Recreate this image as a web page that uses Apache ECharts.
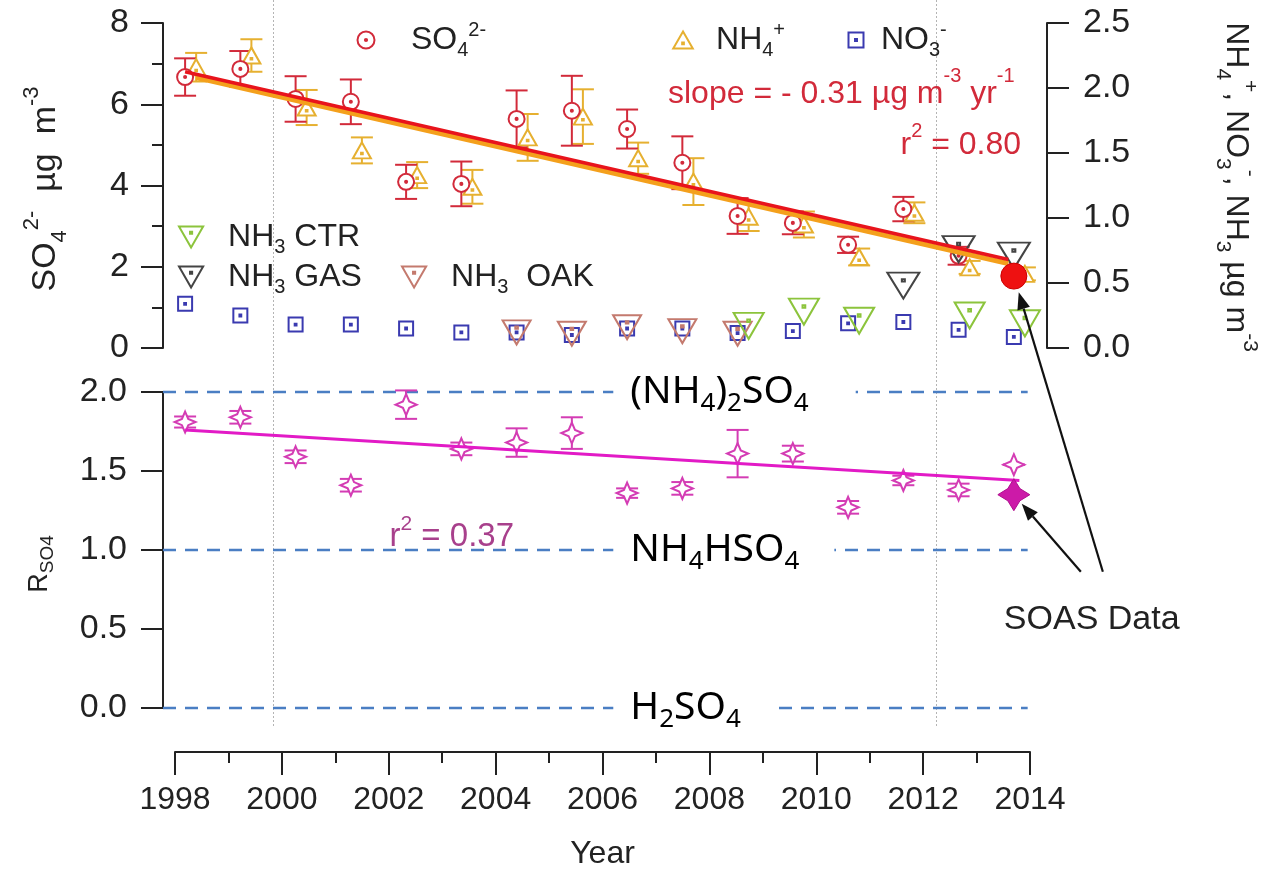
<!DOCTYPE html>
<html><head><meta charset="utf-8">
<script src="https://cdn.jsdelivr.net/npm/echarts@6.0.0/dist/echarts.min.js"></script>
<style>html,body{margin:0;padding:0;background:#fff;}#chart{width:1263px;height:869px;}</style>
</head><body><div id="chart"></div>
<script>
// ---------------- data ----------------
const so4Years = [1998,1999,2000,2001,2002,2003,2004,2005,2006,2007,2008,2009,2010,2011,2012];
const so4      = [6.67,6.87,6.13,6.06,4.09,4.04,5.64,5.84,5.39,4.56,3.25,3.08,2.54,3.42,2.27];
const so4Err   = [0.46,0.44,0.56,0.55,0.42,0.55,0.70,0.86,0.48,0.65,0.44,0.28,0.20,0.30,0.22];

const nh4Years = [1998,1999,2000,2001,2002,2003,2004,2005,2006,2007,2008,2009,2010,2011,2012,2013];
const nh4      = [2.16,2.25,1.85,1.52,1.33,1.24,1.62,1.78,1.46,1.28,1.01,0.95,0.70,1.04,0.62,0.57];
const nh4Err   = [0.11,0.125,0.135,0.10,0.10,0.13,0.18,0.21,0.12,0.18,0.11,0.10,0.065,0.08,0.05,0.05];

const no3Years = [1998,1999,2000,2001,2002,2003,2004,2005,2006,2007,2008,2009,2010,2011,2012,2013];
const no3      = [0.34,0.25,0.18,0.18,0.15,0.12,0.12,0.10,0.15,0.15,0.115,0.13,0.19,0.20,0.14,0.085];
const no3Err   = [0.03,0.03,0.03,0.03,0.03,0.03,0.03,0.03,0.03,0.03,0.03,0.03,0.03,0.03,0.03,0.03];

const nh3OakYears = [2004,2005,2006,2007,2008];
const nh3Oak      = [0.12,0.11,0.16,0.13,0.11];
const nh3CtrYears = [2008,2009,2010,2012,2013];
const nh3Ctr      = [0.17,0.28,0.21,0.25,0.19];
const nh3GasYears = [2011,2012,2013];
const nh3Gas      = [0.48,0.76,0.71];

const rYears = [1998,1999,2000,2001,2002,2003,2004,2005,2006,2007,2008,2009,2010,2011,2012,2013];
const rso4   = [1.81,1.84,1.59,1.41,1.92,1.64,1.68,1.74,1.36,1.39,1.61,1.61,1.27,1.44,1.38,1.54];
const rso4Err= [0.035,0.04,0.04,0.04,0.09,0.04,0.09,0.10,0.03,0.04,0.15,0.05,0.04,0.03,0.04,0.0];

const soasYear = 2013;
const soasSO4 = 1.77;
const soasR = 1.35;

const so4FitX = [1998.4, 2013.3]; const so4Fit = [6.80, 2.18];
const nh4FitX = [1998.6, 2013.3]; const nh4Fit = [2.08, 0.65];
const rFitX   = [1998.4, 2013.5]; const rFit   = [1.76, 1.44];

const refLevels = [0, 1, 2];
const refLabels = ['H{s|2}SO{s|4}', 'NH{s|4}HSO{s|4}', '(NH{s|4}){s|2}SO{s|4}'];
const gridYears = [2000, 2012];

// ---------------- style ----------------
const FF = '"Liberation Sans", Arial, Helvetica, sans-serif';
const FF2 = '"Noto Sans", "DejaVu Sans", sans-serif';
const C = {so4:'#d22a3a', so4Fit:'#e8141c', nh4:'#e6b030', nh4Fit:'#f4a01c', no3:'#3a3ab0',
  ctr:'#8cc43c', gas:'#444444', oak:'#c47a6e', r:'#d43cb4', rFit:'#e21ac6', rText:'#a8408c',
  ref:'#4a7ec3', axis:'#222222', grid:'#b4b4b4'};
const OFF_A = 0.4, OFF_B = 0.6;
const SYM = {
  circleDot:'path://M0,-10A10,10,0,1,1,0,10A10,10,0,1,1,0,-10Z M0,-1.3A1.3,1.3,0,1,1,0,1.3A1.3,1.3,0,1,1,0,-1.3Z',
  triUpDot:'path://M0,-10L11.5,10L-11.5,10Z M-1,3L1,3L1,5L-1,5Z',
  triDownDot:'path://M-11.5,-10L11.5,-10L0,10Z M-1,-5L1,-5L1,-3L-1,-3Z',
  squareDot:'path://M-10,-10L10,-10L10,10L-10,10Z M-1.3,-1.3L1.3,-1.3L1.3,1.3L-1.3,1.3Z',
  star4:'path://M0,-10L3,-3L10,0L3,3L0,10L-3,3L-10,0L-3,-3Z',
  star4f:'path://M0,-10L3.8,-3.8L10,0L3.8,3.8L0,10L-3.8,3.8L-10,0L-3.8,-3.8Z'
};

function errSeries(xs, ys, es, off, color, capW, xi, yi, lw, z){
  return {type:'custom', xAxisIndex:xi, yAxisIndex:yi, z:z, silent:true, clip:false,
    data: xs.map((x,i)=>[x+off, ys[i], es[i]]), encode:{x:0, y:1},
    renderItem:(p, api)=>{
      const x=api.value(0), y=api.value(1), e=api.value(2);
      const t=api.coord([x, y+e]), b=api.coord([x, y-e]); const h=capW/2;
      const st={stroke:color, lineWidth:lw};
      return {type:'group', children:[
        {type:'line', shape:{x1:t[0],y1:t[1],x2:b[0],y2:b[1]}, style:st},
        {type:'line', shape:{x1:t[0]-h,y1:t[1],x2:t[0]+h,y2:t[1]}, style:st},
        {type:'line', shape:{x1:b[0]-h,y1:b[1],x2:b[0]+h,y2:b[1]}, style:st}]};
    }};
}
function markSeries(name, xs, ys, off, symbol, size, fill, stroke, xi, yi, z, bw){
  return {name:name, type:'scatter', xAxisIndex:xi, yAxisIndex:yi, z:z, silent:true, clip:false,
    symbol:symbol, symbolSize:size, data: xs.map((x,i)=>[x+off, ys[i]]),
    itemStyle:{color:fill, borderColor:stroke, borderWidth:(bw==null?2:bw), opacity:1},
    emphasis:{disabled:true}};
}
function fitSeries(xs, ys, color, w, xi, yi, z){
  return {type:'line', xAxisIndex:xi, yAxisIndex:yi, z:z, silent:true, symbol:'none', showSymbol:false,
    data: xs.map((x,i)=>[x, ys[i]]), lineStyle:{color:color, width:w}};
}

const legendText = {
  'SO4':'SO{s|4}{p|2-}', 'NH4':'NH{s|4}{p|+}', 'NO3':'NO{s|3}{p|-}',
  'NH3 CTR':'NH{s|3} CTR', 'NH3 GAS':'NH{s|3} GAS', 'NH3 OAK':'NH{s|3}  OAK'
};
// left = icon centre - icon width/2 ; text starts at left + (w + iconW)/2 + 5
function legendAt(name, iconX, top, w, h, iw, icon, stroke, fill){
  return {show:true, left:iconX - iw/2, top:top, padding:0, itemGap:0, itemWidth:w, itemHeight:h,
    selectedMode:false, symbolKeepAspect:true,
    data:[{name:name, icon:icon, itemStyle:{color:fill, borderColor:stroke, borderWidth:2}}],
    formatter: n => legendText[n],
    textStyle:{fontSize:32, fontFamily:FF, color:'#222', lineHeight:40,
      rich:{s:{fontSize:20, fontFamily:FF, color:'#222', verticalAlign:'bottom', lineHeight:22},
            p:{fontSize:20, fontFamily:FF, color:'#222', verticalAlign:'top', lineHeight:22}}}};
}

const axLine = {show:true, lineStyle:{color:C.axis, width:2}};
const axTick = (len)=>({show:true, inside:false, length:len, lineStyle:{color:C.axis, width:2}});
const lbl = (m, fmt)=>({show:true, fontSize:34, fontFamily:FF, color:'#222', margin:m, formatter:fmt});

const option = {
  animation:false,
  backgroundColor:'#ffffff',
  grid:[
    {left:163, right:216, top:23, height:325, outerBoundsMode:'none', containLabel:false},
    {left:163, right:216, top:392, height:316, outerBoundsMode:'none', containLabel:false},
    {left:175, right:233, top:700, height:52, outerBoundsMode:'none', containLabel:false},
    {left:163, right:216, top:0, height:728, outerBoundsMode:'none', containLabel:false}
  ],
  xAxis:[
    {gridIndex:0, type:'value', min:1998, max:2014, show:false},
    {gridIndex:1, type:'value', min:1998, max:2014, show:false},
    {gridIndex:2, type:'value', min:1998, max:2014, interval:2, position:'bottom',
      axisLine:axLine, axisTick:axTick(23),
      minorTick:{show:true, splitNumber:2, length:11, lineStyle:{color:C.axis, width:2}},
      splitLine:{show:false},
      axisLabel:{show:true, fontSize:32, fontFamily:FF, color:'#222', margin:32, formatter:v=>String(v)},
      name:'Year', nameLocation:'middle', nameGap:86,
      nameTextStyle:{fontSize:32, fontFamily:FF, color:'#222'}},
    {gridIndex:3, type:'value', min:1998, max:2014, show:false}
  ],
  yAxis:[
    {gridIndex:0, type:'value', min:0, max:8, interval:2, position:'left',
      axisLine:axLine, axisTick:axTick(22),
      minorTick:{show:true, splitNumber:2, length:11, lineStyle:{color:C.axis, width:2}},
      splitLine:{show:false}, axisLabel:lbl(34, v=>String(v))},
    {gridIndex:0, type:'value', min:0, max:2.5, interval:0.5, position:'right',
      axisLine:axLine, axisTick:axTick(22), splitLine:{show:false},
      axisLabel:lbl(36, v=>v.toFixed(1))},
    {gridIndex:1, type:'value', min:0, max:2, interval:0.5, position:'left',
      axisLine:axLine, axisTick:axTick(22), splitLine:{show:false},
      axisLabel:lbl(36, v=>v.toFixed(1))},
    {gridIndex:2, type:'value', min:0, max:1, show:false},
    {gridIndex:3, type:'value', min:0, max:1, show:false}
  ],
  legend:[
    legendAt('SO4', 365, 20, 80, 17, 17, SYM.circleDot, C.so4, '#fff'),
    legendAt('NH4', 682, 20, 56, 17, 19.5, SYM.triUpDot, C.nh4, '#fff'),
    legendAt('NO3', 855, 20, 40, 15, 15, SYM.squareDot, C.no3, '#fff'),
    legendAt('NH3 CTR', 190, 217, 64, 21, 24, SYM.triDownDot, C.ctr, 'rgba(255,255,255,0)'),
    legendAt('NH3 GAS', 190, 257, 64, 21, 24, SYM.triDownDot, C.gas, 'rgba(255,255,255,0)'),
    legendAt('NH3 OAK', 413, 257, 64, 21, 24, SYM.triDownDot, C.oak, 'rgba(255,255,255,0)')
  ],
  series:[
    // vertical grid lines across both panels
    {type:'custom', xAxisIndex:3, yAxisIndex:4, z:0, silent:true, clip:false,
      data: gridYears.map(y=>[y, 0]), encode:{x:0, y:1},
      renderItem:(p, api)=>{ const c=api.coord([api.value(0), 0]); const cs=p.coordSys;
        return {type:'line', shape:{x1:c[0], y1:cs.y, x2:c[0], y2:cs.y+cs.height},
          style:{stroke:C.grid, lineWidth:1, lineDash:[2,2]}}; }},
    // reference dashed lines
    {type:'custom', xAxisIndex:1, yAxisIndex:2, z:1, silent:true, clip:false,
      data: refLevels.map(v=>[1998, v]), encode:{x:0, y:1},
      renderItem:(p, api)=>{ const v=api.value(1); const a=api.coord([1998, v]); const b=api.coord([2013.65, v]);
        return {type:'line', shape:{x1:a[0], y1:a[1], x2:b[0], y2:b[1]},
          style:{stroke:C.ref, lineWidth:2.5, lineDash:[13,9]}}; }},
    // error bars
    errSeries(no3Years, no3, no3Err, OFF_A, C.no3, 14, 0, 1, 2, 2),
    errSeries(nh4Years, nh4, nh4Err, OFF_B, C.nh4, 22, 0, 1, 2, 2),
    errSeries(so4Years, so4, so4Err, OFF_A, C.so4, 22, 0, 0, 2, 2),
    errSeries(rYears, rso4, rso4Err, OFF_A, C.r, 22, 1, 2, 2, 2),
    // markers
    markSeries('NO3', no3Years, no3, OFF_A, SYM.squareDot, 14, '#fff', C.no3, 0, 1, 3),
    markSeries('NH3 OAK', nh3OakYears, nh3Oak, OFF_A, SYM.triDownDot, [28,24], 'rgba(255,255,255,0)', C.oak, 0, 1, 4),
    markSeries('NH3 CTR', nh3CtrYears, nh3Ctr, OFF_B, SYM.triDownDot, [30,26], 'rgba(255,255,255,0)', C.ctr, 0, 1, 4),
    markSeries('NH3 GAS', nh3GasYears, nh3Gas, OFF_A, SYM.triDownDot, [32,26], 'rgba(255,255,255,0)', C.gas, 0, 1, 4),
    markSeries('NH4', nh4Years, nh4, OFF_B, SYM.triUpDot, [18,16], '#fff', C.nh4, 0, 1, 3),
    markSeries('SO4', so4Years, so4, OFF_A, SYM.circleDot, 16, '#fff', C.so4, 0, 0, 3),
    markSeries('R_SO4', rYears, rso4, OFF_A, SYM.star4, 21, '#fff', C.r, 1, 2, 3),
    // fits
    fitSeries(nh4FitX, nh4Fit, C.nh4Fit, 5, 0, 1, 5),
    fitSeries(so4FitX, so4Fit, C.so4Fit, 3.5, 0, 0, 6),
    fitSeries(rFitX, rFit, C.rFit, 3, 1, 2, 5),
    // SOAS data
    markSeries('SOAS SO4', [soasYear], [soasSO4], OFF_A, 'circle', 26, '#ee1111', '#cc0000', 0, 0, 8, 1),
    markSeries('SOAS R', [soasYear], [soasR], OFF_A, SYM.star4f, 32, '#cc1aa8', '#b0108f', 1, 2, 8, 1)
  ]
};

const chart = echarts.init(document.getElementById('chart'), null, {renderer:'canvas'});
chart.setOption(option);

// ---------------- annotations ----------------
const g = [];
const baseRich = (fs, sfs, fam, fill) => ({
  s:{fontSize:sfs, fontFamily:fam, fill:fill, verticalAlign:'bottom', lineHeight:sfs+2},
  p:{fontSize:sfs, fontFamily:fam, fill:fill, verticalAlign:'top', lineHeight:sfs+2}
});
const refPad = [[2,30,2,17],[2,35,2,17],[2,47,2,17]];
refLevels.forEach((v,i)=>{
  const p = chart.convertToPixel({xAxisIndex:1, yAxisIndex:2}, [2006.15, v]);
  g.push({type:'text', x:p[0], y:p[1], z:50, silent:true, style:{
    text:refLabels[i], fill:'#000', fontSize:39, fontFamily:FF2, lineHeight:50,
    align:'left', verticalAlign:'middle', backgroundColor:'#fff', padding:refPad[i],
    rich: baseRich(39, 26, FF2, '#000')}});
});
// fit statistics
g.push({type:'text', x:668, y:94, z:50, silent:true, style:{
  text:'slope = - 0.31 µg m{p|-3} yr{p|-1}', fill:C.so4, fontSize:32, fontFamily:FF, lineHeight:56,
  align:'left', verticalAlign:'middle', rich: baseRich(32, 20, FF, C.so4)}});
g.push({type:'text', x:1021, y:145, z:50, silent:true, style:{
  text:'r{p|2} = 0.80', fill:C.so4, fontSize:32, fontFamily:FF, lineHeight:48,
  align:'right', verticalAlign:'middle', rich: baseRich(32, 20, FF, C.so4)}});
const rr = chart.convertToPixel({xAxisIndex:1, yAxisIndex:2}, [2002.1, 1.08]);
g.push({type:'text', x:rr[0], y:rr[1], z:50, silent:true, style:{
  text:'r{p|2} = 0.37', fill:C.rText, fontSize:33, fontFamily:FF, lineHeight:48,
  align:'left', verticalAlign:'middle', rich: baseRich(33, 21, FF, C.rText)}});

// axis titles
g.push({type:'text', x:46, y:189, rotation:Math.PI/2, z:50, silent:true, style:{
  text:'SO{s|4}{p|2-}  µg  m{p|-3}', fill:'#222', fontSize:34, fontFamily:FF, lineHeight:50,
  align:'center', verticalAlign:'middle', rich: baseRich(34, 22, FF, '#222')}});
g.push({type:'text', x:1236, y:187, rotation:-Math.PI/2, z:50, silent:true, style:{
  text:'NH{s|4}{p|+}, NO{s|3}{p|-}, NH{s|3} µg m{p|-3}', fill:'#222', fontSize:32, fontFamily:FF, lineHeight:48,
  align:'center', verticalAlign:'middle', rich: baseRich(32, 21, FF, '#222')}});
g.push({type:'text', x:40, y:564, rotation:Math.PI/2, z:50, silent:true, style:{
  text:'R{s|SO4}', fill:'#222', fontSize:27, fontFamily:FF, lineHeight:34,
  align:'center', verticalAlign:'middle', rich: baseRich(27, 19, FF, '#222')}});

// SOAS label and arrows
const pS = chart.convertToPixel({xAxisIndex:0, yAxisIndex:0}, [soasYear+OFF_A, soasSO4]);
const pR = chart.convertToPixel({xAxisIndex:1, yAxisIndex:2}, [soasYear+OFF_A, soasR]);
g.push({type:'text', x:pR[0]-10, y:pR[1]+125, z:50, silent:true, style:{
  text:'SOAS Data', fill:'#222', fontSize:34, fontFamily:FF, align:'left', verticalAlign:'middle'}});
function arrow(from, to, back){
  const dx=from[0]-to[0], dy=from[1]-to[1], L=Math.hypot(dx,dy), ux=dx/L, uy=dy/L;
  const tip=[to[0]+ux*back, to[1]+uy*back];
  const hl=17, hw=6.5;
  const base=[tip[0]+ux*hl, tip[1]+uy*hl];
  g.push({type:'line', z:60, silent:true, shape:{x1:from[0], y1:from[1], x2:base[0], y2:base[1]},
    style:{stroke:'#111', lineWidth:2.2}});
  g.push({type:'polygon', z:60, silent:true, shape:{points:[tip, [base[0]-uy*hw, base[1]+ux*hw], [base[0]+uy*hw, base[1]-ux*hw]]},
    style:{fill:'#111'}});
}
arrow([pR[0]+89, pR[1]+77], pS, 17);
arrow([pR[0]+67, pR[1]+77], pR, 12);

chart.setOption({graphic:g});
</script></body></html>
